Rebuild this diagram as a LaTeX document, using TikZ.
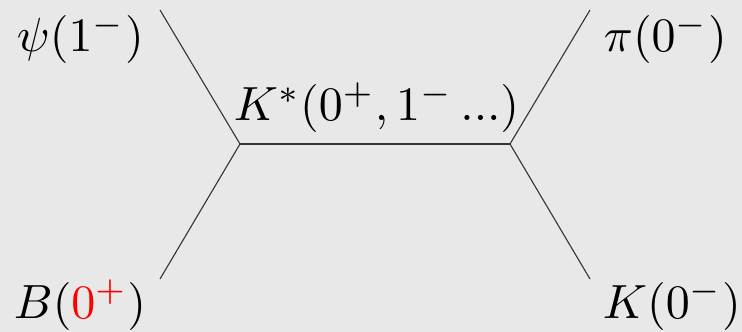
\documentclass[tikz,border=0pt]{standalone}
\begin{document}
\begin{tikzpicture}[x=1pt,y=1pt,
  prop/.style={draw=black!80,line width=1.1pt},
  lbl/.style={anchor=base west,inner sep=0pt,font=\normalsize,scale=4.8,transform shape}]
\fill[black!9] (0,0) rectangle (742,332);
\useasboundingbox (0,0) rectangle (742,332);
\coordinate (v1) at (240,188);
\coordinate (v2) at (510,188);
\coordinate (a) at (160,322);
\coordinate (b) at (160,53);
\coordinate (c) at (590,322);
\coordinate (d) at (590,53);
\draw[prop] (a) -- (v1) -- (b);
\draw[prop] (v1) -- (v2);
\draw[prop] (c) -- (v2) -- (d);
\node[lbl] (psi) at (16,280) {$\psi(1^-)$};
\node[lbl] (pi) at (603,280) {$\pi(0^-)$};
\node[lbl] (ks) at (233,211) {$K^*(0^+,1^-\,...)$};
\node[lbl] (B) at (13,14) {$B(\textcolor{red}{0^+})$};
\node[lbl] (K) at (602,14) {$K(0^-)$};
\end{tikzpicture}
\end{document}
